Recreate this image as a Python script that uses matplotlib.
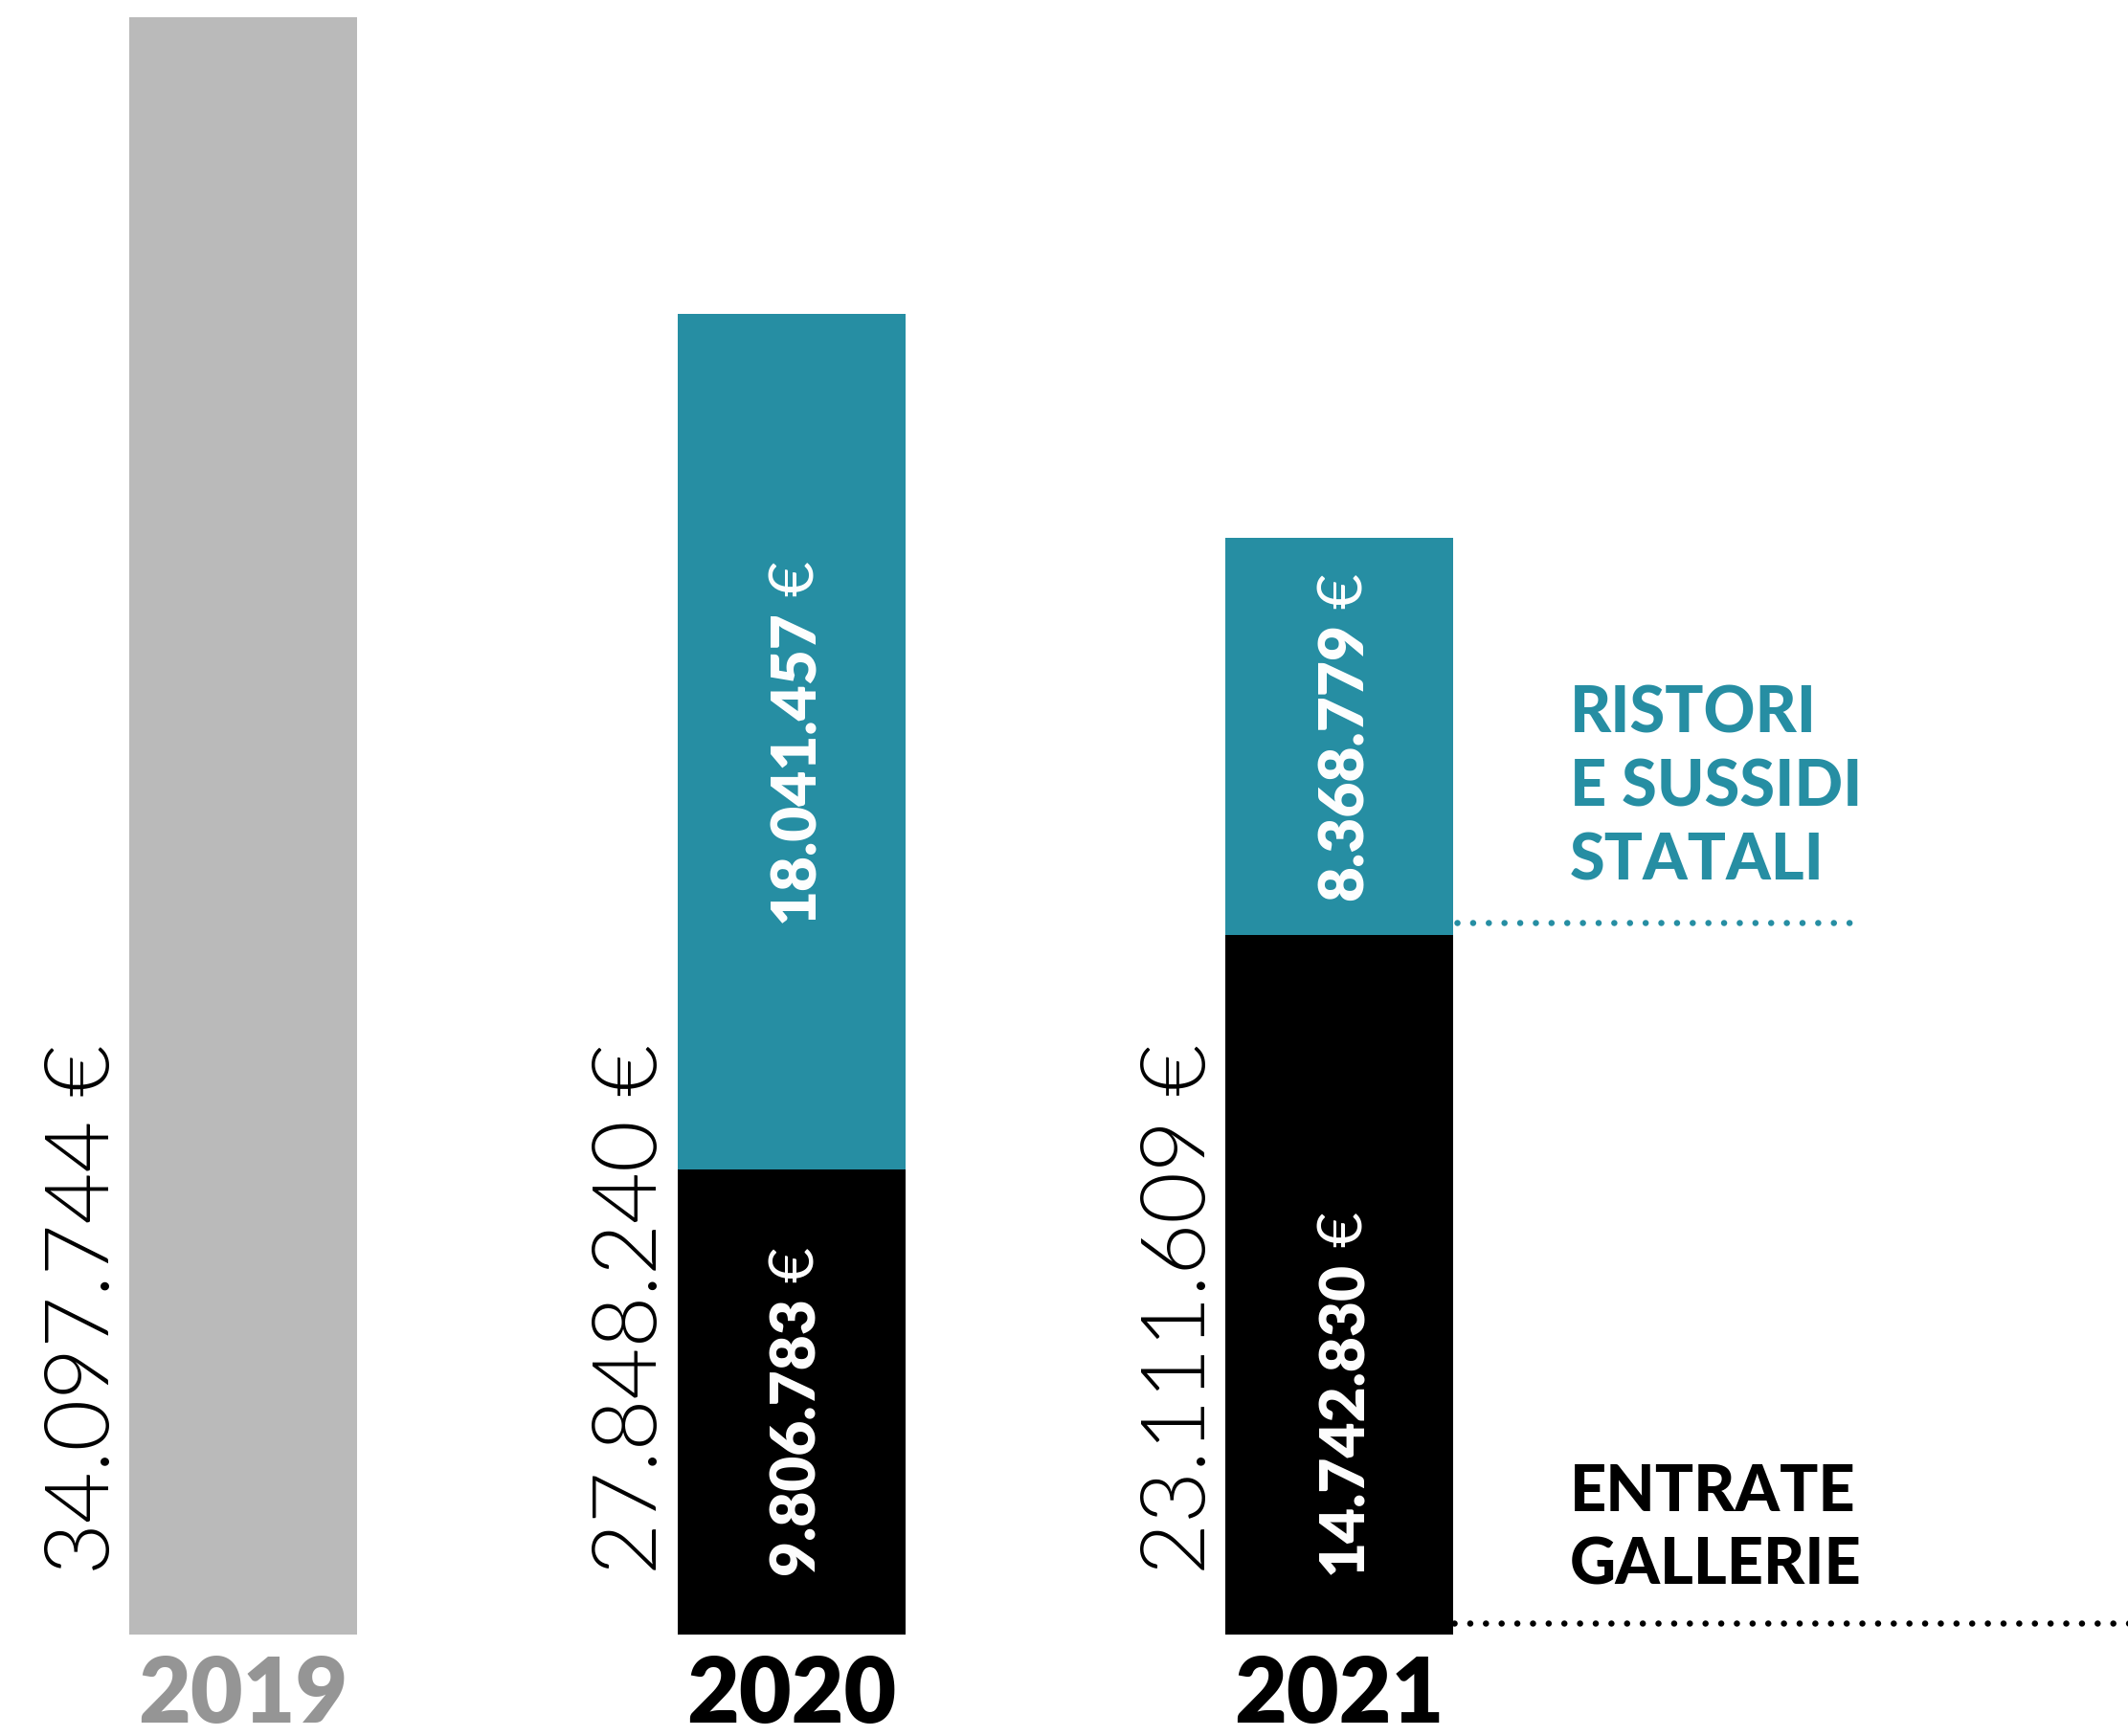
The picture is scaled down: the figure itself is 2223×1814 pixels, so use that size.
import matplotlib
matplotlib.use('Agg')
import matplotlib.pyplot as plt
from matplotlib.transforms import offset_copy

plt.rcParams['font.family'] = ['Lato', 'DejaVu Sans']

years = ['2019', '2020', '2021']
entrate = [34097744, 9806783, 14742830]      # entrate gallerie
ristori = [0, 18041457, 8368779]            # ristori e sussidi statali
totals = [34097744, 27848240, 23111609]

year_colors = ['#959595', '#000000', '#000000']
grey = '#bababa'
teal = '#268ea3'

def fmt(v):
    return f'{v:,}'.replace(',', '.')

fig = plt.figure(figsize=(22.23, 18.14), dpi=100)
ax = fig.add_axes([0, 0, 1, 1])
ax.set_xlim(-0.444, 3.439)
ax.set_ylim(-2138700, 34460600)
ax.axis('off')
renderer = fig.canvas.get_renderer()

x = [0, 1, 2]
w = 0.416
base_colors = [grey, 'black', 'black']
ax.bar(x, entrate, width=w, color=base_colors, linewidth=0)
ax.bar(x[1:], ristori[1:], bottom=entrate[1:], width=w, color=teal, linewidth=0)

label_y = 1271000   # common start of the vertical labels
px = (34460600 + 2138700) / 1814   # euros per pixel


def value_label(xc, y, number, size, color, centered=False):
    # bold figures followed by a lighter euro sign, reading bottom to top
    t_num = ax.text(xc, y, number, rotation=90, rotation_mode='anchor', ha='left',
                    va='center_baseline', fontsize=size, fontweight='heavy', color=color)
    t_eur = ax.text(xc, y, '€', rotation=90, rotation_mode='anchor', ha='left',
                    va='center_baseline', fontsize=size, fontweight='normal', color=color)
    n_len = t_num.get_window_extent(renderer).height
    e_len = t_eur.get_window_extent(renderer).height
    gap = size * 0.32
    start = -(n_len + gap + e_len) / 2 if centered else 0
    t_num.set_transform(offset_copy(ax.transData, fig=fig, y=start, units='dots'))
    t_eur.set_transform(offset_copy(ax.transData, fig=fig, y=start + n_len + gap, units='dots'))


for i in range(3):
    # totals on the left side of each bar
    ax.text(x[i] - 0.304, label_y, fmt(totals[i]) + ' €', rotation=90, rotation_mode='anchor',
            ha='left', va='center_baseline', fontsize=67, fontweight=300, color='black')
    ax.text(x[i], -1860000, years[i], ha='center', va='baseline', fontsize=68,
            fontweight='heavy', color=year_colors[i])

for i in range(1, 3):
    value_label(x[i], label_y, fmt(entrate[i]), 46, 'white')
    value_label(x[i], entrate[i] + ristori[i] / 2, fmt(ristori[i]), 46, 'white', centered=True)

# dotted guides and legend text
teal_line = entrate[2] + 13 * px
black_line = 12 * px
ax.plot([2.215, 2.946], [teal_line, teal_line], color=teal, lw=4.7,
        linestyle=(0, (0.01, 2.5)), dash_capstyle='round')
ax.plot([2.21, 3.45], [black_line, black_line], color='black', lw=4.7,
        linestyle=(0, (0.01, 2.5)), dash_capstyle='round')

for j, line in enumerate(['RISTORI', 'E SUSSIDI', 'STATALI']):
    ax.text(2.42, teal_line + (45 + 77 * (2 - j)) * px, line, ha='left', va='baseline',
            fontsize=48, fontweight='black', color=teal)
for j, line in enumerate(['ENTRATE', 'GALLERIE']):
    ax.text(2.42, black_line + (40 + 77 * (1 - j)) * px, line, ha='left', va='baseline',
            fontsize=48, fontweight='black', color='black')

fig.savefig('out.png', dpi=100)
